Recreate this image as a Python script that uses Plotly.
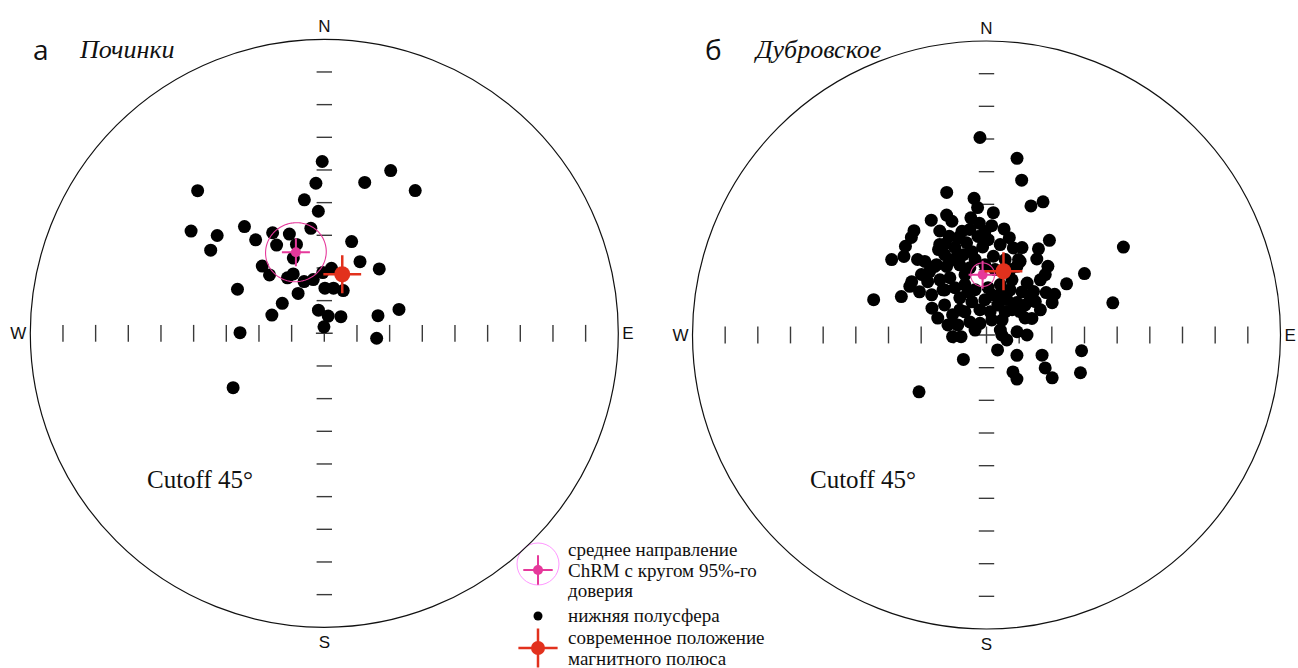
import numpy as np
import plotly.graph_objects as go

W_PX, H_PX = 1298, 668

# ---------------- data (declination, inclination in degrees) ----------------
# а – Починки
DEC_A = [359.3, 22.2, 15.0, 32.5, 318.4, 356.8, 351.5, 357.2, 323.2, 307.5,
         312.4, 306.2, 323.7, 332.8, 340.6, 352.7, 331.6, 342.6, 16.6, 337.6,
         26.5, 40.5, 317.3, 316.8, 326.4, 332.4, 338.6, 348.4, 358.5, 6.3,
         296.9, 0.8, 11.5, 23.9, 326.7, 305.5, 289.2, 345.8, 12.8, 45.0,
         71.8, 72.3, 357.0, 270.4, 95.4, 239.2]
INC_A = [37.4, 36.2, 42.2, 38.2, 31.6, 44.0, 48.7, 52.6, 49.2, 38.6,
         45.6, 46.9, 54.5, 55.4, 57.8, 57.6, 59.3, 61.5, 60.7, 65.1,
         65.5, 64.1, 62.0, 65.5, 69.6, 69.5, 73.0, 73.2, 71.4, 70.0,
         60.2, 76.2, 75.9, 75.7, 75.4, 74.2, 73.0, 82.7, 84.6, 82.8,
         72.7, 66.0, 88.0, 64.2, 73.9, 57.5]

# б – Дубровское
DEC_B = [358.1, 344.4, 354.8, 356.0, 3.2, 341.6, 334.3, 352.4, 356.3, 2.7,
         351.0, 9.4, 325.2, 335.8, 322.4, 339.3, 343.7, 317.6, 330.7, 347.8,
         357.5, 313.6, 308.5, 324.6, 336.2, 343.9, 351.4, 5.0, 13.9, 329.8,
         9.8, 12.8, 19.0, 23.0, 13.2, 33.6, 17.1, 31.1, 57.3, 33.5,
         23.0, 41.8, 57.9, 57.4, 44.3, 38.0, 47.3, 54.6, 59.1, 63.8,
         55.6, 43.2, 29.9, 45.4, 75.7, 69.9, 83.9, 90.0, 103.6, 90.0,
         123.7, 110.0, 99.4, 119.3, 144.4, 145.4, 123.1, 111.9, 23.9, 24.5,
         287.4, 294.3, 296.2, 267.2, 266.3, 223.4, 143.5, 229.9, 300.8, 331.0,
         19.2, 302.4, 312.9, 323.0, 316.1,
         340.1, 350.0, 1.0, 8.6, 332.5, 339.1, 358.7, 7.4, 340.4, 327.4,
         312.2, 319.8, 326.2, 336.8, 345.8, 2.0, 15.3, 24.8, 302.8, 306.2,
         324.3, 336.2, 357.3, 20.8, 39.5, 305.7, 317.1, 8.8, 46.2, 308.1,
         289.4, 27.6, 52.1, 70.3, 19.8, 44.2, 55.4, 65.0, 335.3, 355.1,
         320.0, 343.1, 346.7, 359.1, 346.1, 339.0, 317.2, 318.1, 305.4, 289.2,
         284.7, 345.4, 293.2, 7.9, 38.8, 51.1, 18.8, 313.2, 336.6, 66.2,
         317.6, 332.7, 22.1]
INC_B = [29.5, 44.7, 48.0, 50.9, 52.5, 51.3, 51.0, 53.8, 55.7, 56.5,
         57.3, 57.1, 51.1, 55.1, 52.3, 57.7, 59.0, 53.2, 60.0, 61.1,
         63.0, 55.1, 52.9, 63.6, 64.7, 64.4, 66.6, 65.8, 66.2, 65.7,
         35.1, 41.4, 48.2, 45.7, 59.4, 55.2, 62.1, 59.2, 40.2, 62.1,
         64.9, 61.8, 54.6, 60.9, 66.4, 69.8, 70.4, 67.6, 65.7, 67.6,
         71.9, 76.4, 77.5, 79.0, 50.1, 75.2, 80.6, 77.6, 83.6, 85.3,
         78.8, 71.9, 60.5, 69.4, 76.1, 73.6, 66.0, 59.0, 67.0, 65.2,
         53.8, 61.4, 71.4, 79.6, 82.2, 79.7, 84.3, 63.0, 77.9, 85.9,
         85.1, 62.2, 62.8, 63.7, 70.8,
         61.5, 64.1, 60.8, 62.0, 62.3, 67.0, 68.5, 69.8, 70.4, 69.2,
         65.7, 67.9, 72.6, 73.2, 75.7, 75.5, 74.0, 71.4, 65.6, 69.2,
         76.0, 78.9, 79.2, 80.2, 72.9, 74.2, 80.3, 82.8, 83.4, 83.5,
         80.7, 74.4, 75.0, 85.5, 68.7, 64.2, 77.5, 71.8, 59.4, 59.7,
         60.6, 53.6, 57.4, 58.3, 68.8, 64.6, 71.2, 63.9, 61.9, 74.2,
         77.8, 82.0, 86.2, 77.6, 80.9, 72.8, 77.0, 78.8, 75.6, 77.1,
         58.7, 58.8, 61.1]

# mean ChRM directions with alpha95, and present-day field/pole direction
MEAN_DEC = [340.7, 356.3]
MEAN_INC = [63.7, 71.5]
ALPHA95 = [9.0, 3.6]
POLE_DEC = [16.9, 14.9]
POLE_INC = [71.1, 69.8]

TICK_DEG = [10, 20, 30, 40, 50, 60, 70, 80]
CARDINAL_ANGLES = [0, 90, 180, 270]
CARDINAL_LABELS = ["N", "E", "S", "W"]
PANEL_LETTERS = ["а", "б"]
SITE_NAMES = ["Починки", "Дубровское"]
CUTOFF_TEXT = "Cutoff 45°"
LEGEND_TEXTS = [["среднее направление", "ChRM с кругом 95%-го", "доверия"],
                ["нижняя полусфера"],
                ["современное положение", "магнитного полюса"]]

# ---------------- layout constants (pixels) ----------------
PANEL_CX = [324.3, 986.5]
PANEL_CY = [333.3, 335.0]
R_PX = 294.0
PINK = "#e6399b"
RED = "#e2311d"
TICK_COL = "#3a3a3a"
DOT_SIZE = 13


def px_x(x):
    return x / W_PX


def px_y(y):
    return 1 - y / H_PX


def small_circle(dec0, inc0, a, n=181):
    d0, i0, ar = np.radians(dec0), np.radians(inc0), np.radians(a)
    m = np.array([np.cos(i0) * np.cos(d0), np.cos(i0) * np.sin(d0), np.sin(i0)])
    ref = np.array([0.0, 0.0, 1.0]) if abs(m[2]) < 0.9 else np.array([1.0, 0.0, 0.0])
    u = np.cross(m, ref)
    u /= np.linalg.norm(u)
    v = np.cross(m, u)
    t = np.linspace(0, 2 * np.pi, n)
    pts = (np.cos(ar) * m[:, None] + np.sin(ar) * (np.cos(t) * u[:, None] + np.sin(t) * v[:, None]))
    inc = np.degrees(np.arcsin(np.clip(pts[2], -1, 1)))
    dec = np.degrees(np.arctan2(pts[1], pts[0])) % 360
    return dec, inc


fig = go.Figure()
panels = [(DEC_A, INC_A), (DEC_B, INC_B)]

for k, (decs, incs) in enumerate(panels):
    sp = "polar" if k == 0 else "polar2"
    # tick marks along N-S diameter
    fig.add_trace(go.Scatterpolar(
        r=TICK_DEG + TICK_DEG, theta=[0] * len(TICK_DEG) + [180] * len(TICK_DEG),
        mode="markers", subplot=sp, hoverinfo="skip", showlegend=False,
        marker=dict(symbol="line-ew", size=11, line=dict(width=1.4, color=TICK_COL))))
    # tick marks along E-W diameter
    fig.add_trace(go.Scatterpolar(
        r=TICK_DEG + TICK_DEG, theta=[90] * len(TICK_DEG) + [270] * len(TICK_DEG),
        mode="markers", subplot=sp, hoverinfo="skip", showlegend=False,
        marker=dict(symbol="line-ns", size=12, line=dict(width=1.4, color=TICK_COL))))
    # centre cross
    fig.add_trace(go.Scatterpolar(
        r=[0], theta=[0], mode="markers", subplot=sp, hoverinfo="skip", showlegend=False,
        marker=dict(symbol="cross-thin", size=12, line=dict(width=1.4, color=TICK_COL))))
    # lower hemisphere directions
    fig.add_trace(go.Scatterpolar(
        r=[90 - i for i in incs], theta=decs, mode="markers", subplot=sp, showlegend=False,
        marker=dict(symbol="circle", size=DOT_SIZE, color="black", line=dict(width=0))))
    # alpha95 circle
    cd, ci = small_circle(MEAN_DEC[k], MEAN_INC[k], ALPHA95[k])
    fig.add_trace(go.Scatterpolar(
        r=90 - ci, theta=cd, mode="lines", subplot=sp, showlegend=False, hoverinfo="skip",
        line=dict(color=PINK, width=1.1)))
    # mean direction
    fig.add_trace(go.Scatterpolar(
        r=[90 - MEAN_INC[k]], theta=[MEAN_DEC[k]], mode="markers", subplot=sp, showlegend=False,
        marker=dict(symbol="cross-thin", size=20, line=dict(width=2, color=PINK))))
    fig.add_trace(go.Scatterpolar(
        r=[90 - MEAN_INC[k]], theta=[MEAN_DEC[k]], mode="markers", subplot=sp, showlegend=False,
        marker=dict(symbol="circle", size=10, color=PINK, line=dict(width=0))))
    # present-day pole direction
    fig.add_trace(go.Scatterpolar(
        r=[90 - POLE_INC[k]], theta=[POLE_DEC[k]], mode="markers", subplot=sp, showlegend=False,
        marker=dict(symbol="cross-thin", size=27, line=dict(width=2.5, color=RED))))
    fig.add_trace(go.Scatterpolar(
        r=[90 - POLE_INC[k]], theta=[POLE_DEC[k]], mode="markers", subplot=sp, showlegend=False,
        marker=dict(symbol="circle", size=16, color=RED, line=dict(width=0))))


def polar_layout(k):
    cx, cy = PANEL_CX[k], PANEL_CY[k]
    return dict(
        domain=dict(x=[px_x(cx - R_PX), px_x(cx + R_PX)],
                    y=[px_y(cy + R_PX), px_y(cy - R_PX)]),
        bgcolor="rgba(0,0,0,0)",
        angularaxis=dict(rotation=90, direction="clockwise", showline=True,
                         linecolor="#111111", linewidth=1.2, showgrid=False, ticks="",
                         tickmode="array", tickvals=CARDINAL_ANGLES, ticktext=CARDINAL_LABELS,
                         tickfont=dict(family="Liberation Sans, Arial, sans-serif", size=17,
                                       color="#111111")),
        radialaxis=dict(visible=False, range=[0, 90], autorange=False))


# ---------------- manual legend (glyphs on a pixel-scaled helper axis) ----------------
LEG_X = 538.0
fig.add_trace(go.Scatter(x=[LEG_X], y=[564], mode="markers", xaxis="x", yaxis="y",
                         showlegend=False, hoverinfo="skip",
                         marker=dict(symbol="circle-open", size=42, line=dict(width=1, color=PINK))))
fig.add_trace(go.Scatter(x=[LEG_X], y=[570], mode="markers", xaxis="x", yaxis="y",
                         showlegend=False, hoverinfo="skip",
                         marker=dict(symbol="cross-thin", size=21, line=dict(width=2, color=PINK))))
fig.add_trace(go.Scatter(x=[LEG_X], y=[570], mode="markers", xaxis="x", yaxis="y",
                         showlegend=False, hoverinfo="skip",
                         marker=dict(symbol="circle", size=10, color=PINK)))
fig.add_trace(go.Scatter(x=[LEG_X], y=[616], mode="markers", xaxis="x", yaxis="y",
                         showlegend=False, hoverinfo="skip",
                         marker=dict(symbol="circle", size=9, color="black")))
fig.add_trace(go.Scatter(x=[LEG_X], y=[648], mode="markers", xaxis="x", yaxis="y",
                         showlegend=False, hoverinfo="skip",
                         marker=dict(symbol="cross-thin", size=28, line=dict(width=2.5, color=RED))))
fig.add_trace(go.Scatter(x=[LEG_X], y=[648], mode="markers", xaxis="x", yaxis="y",
                         showlegend=False, hoverinfo="skip",
                         marker=dict(symbol="circle", size=14, color=RED)))

annotations = []
SERIF = "Liberation Serif, Times New Roman, serif"
leg_rows_y = [[549, 570, 590], [615], [637, 658]]
for lines, ys in zip(LEGEND_TEXTS, leg_rows_y):
    for t, yy in zip(lines, ys):
        annotations.append(dict(text=t, x=px_x(566), y=px_y(yy), xref="paper", yref="paper",
                                xanchor="left", yanchor="middle", showarrow=False,
                                font=dict(family=SERIF, size=19, color="#111111")))

LETTER_X = [41, 713]
SITE_X = [77, 751]
CUTOFF_X = [145, 808]
for k in range(2):
    annotations.append(dict(text=PANEL_LETTERS[k], x=px_x(LETTER_X[k]), y=px_y(49),
                            xref="paper", yref="paper", xanchor="center", yanchor="middle",
                            showarrow=False,
                            font=dict(family="Open Sans, DejaVu Sans, sans-serif", size=28,
                                      color="#111111")))
    annotations.append(dict(text="<i>" + SITE_NAMES[k] + "</i>", x=px_x(SITE_X[k]), y=px_y(50),
                            xref="paper", yref="paper", xanchor="left", yanchor="middle",
                            showarrow=False, font=dict(family=SERIF, size=26, color="#111111")))
    annotations.append(dict(text=CUTOFF_TEXT, x=px_x(CUTOFF_X[k]), y=px_y(479),
                            xref="paper", yref="paper", xanchor="left", yanchor="middle",
                            showarrow=False, font=dict(family=SERIF, size=25, color="#111111")))

fig.update_layout(
    width=W_PX, height=H_PX,
    margin=dict(l=0, r=0, t=0, b=0, pad=0),
    paper_bgcolor="white", plot_bgcolor="rgba(0,0,0,0)",
    showlegend=False,
    polar=polar_layout(0), polar2=polar_layout(1),
    xaxis=dict(domain=[0, 1], range=[0, W_PX], visible=False, fixedrange=True),
    yaxis=dict(domain=[0, 1], range=[H_PX, 0], visible=False, fixedrange=True),
    annotations=annotations,
)

fig.write_html("out.html", config={"displayModeBar": False},
               post_script="document.body.style.margin='0px';")
